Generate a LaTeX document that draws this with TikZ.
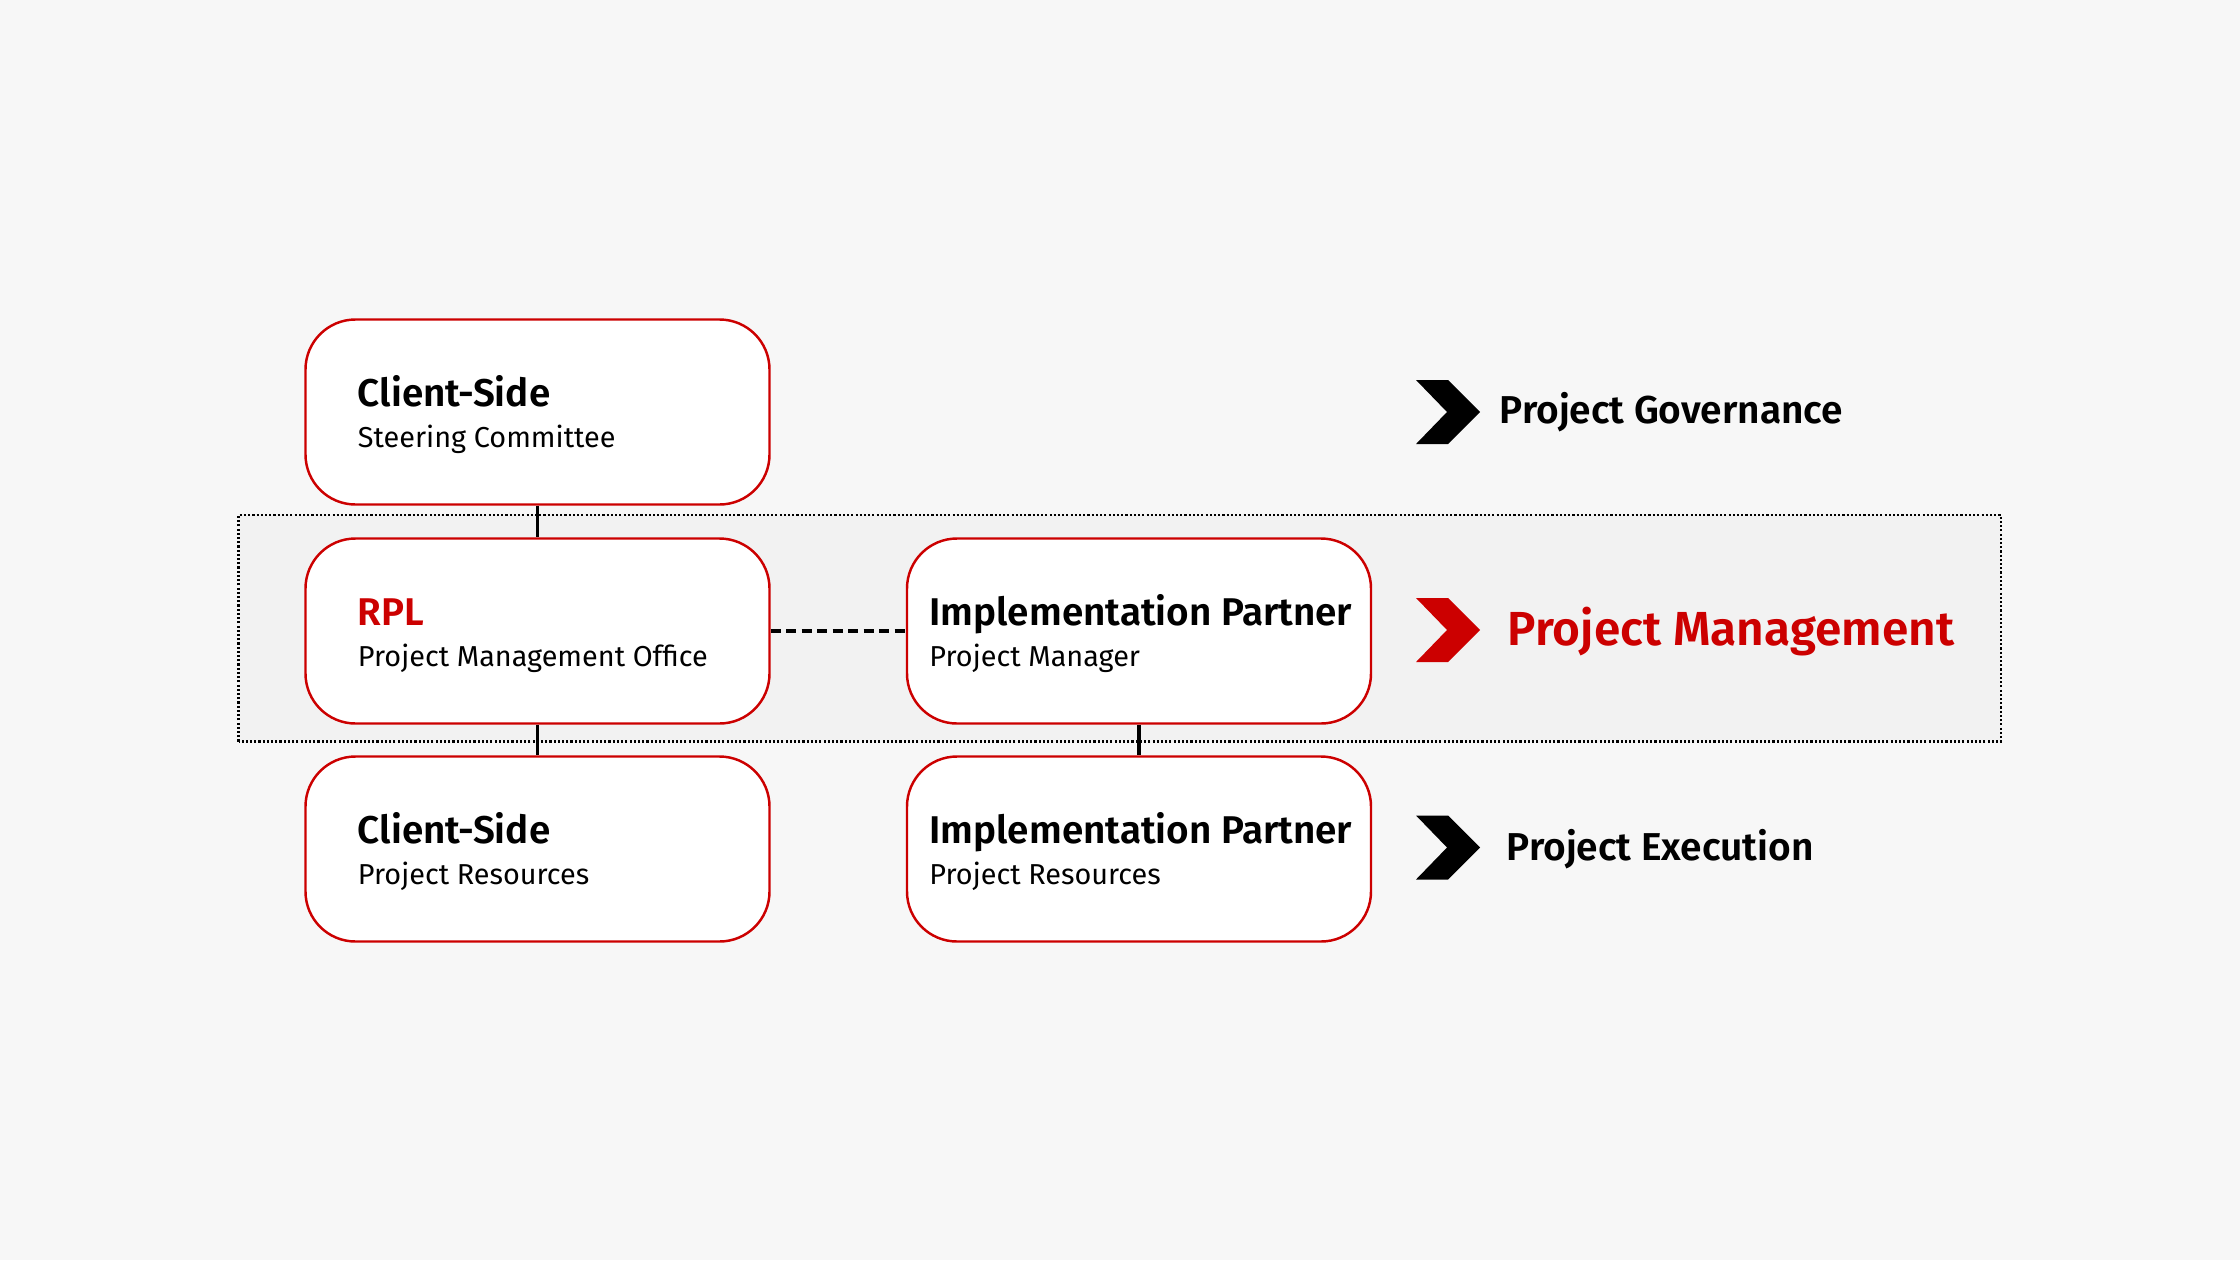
\documentclass[tikz,border=0pt]{standalone}
\usepackage{fontspec}
\setmainfont{Fira Sans}[BoldFont={Fira Sans SemiBold}]
\usepackage{tikz}
\usetikzlibrary{positioning}

\definecolor{rplred}{HTML}{CC0000}
\definecolor{pagebg}{HTML}{F7F7F7}
\definecolor{bandbg}{HTML}{F2F2F2}

\tikzset{
  box/.style={draw=rplred, line width=0.7pt, fill=white, rounded corners=5mm,
    minimum width=4.64cm, minimum height=1.85cm, inner sep=0pt},
  ttl/.style={anchor=base west, inner sep=0pt, font=\fontsize{11}{13}\selectfont\bfseries},
  sub/.style={anchor=base west, inner sep=0pt, font=\fontsize{8.2}{10}\selectfont},
  link/.style={line width=1.1pt},
  phase/.style={anchor=base west, inner sep=0pt, font=\fontsize{11.05}{13}\selectfont\bfseries},
}

\begin{document}
\begin{tikzpicture}
            \useasboundingbox (0,0) rectangle (22.4,12.6);
            \fill[pagebg] (0,0) rectangle (22.4,12.6);

            % management band
            \draw[fill=bandbg, line width=0.6pt, dash pattern=on 0.6pt off 0.6pt] (2.385,5.185) rectangle (20.01,7.45);

            \foreach \n/\x/\y/\dx/\c/\t/\s in {
                gov/5.375/8.48/5.3/black/Client-Side/Steering Committee,
                pmo/5.375/6.29/5.3/rplred/RPL/Project Management Office,
                cres/5.375/4.11/5.3/black/Client-Side/Project Resources,
                ipm/11.39/6.29/2.3/black/Implementation Partner/Project Manager,
                ires/11.39/4.11/2.3/black/Implementation Partner/Project Resources}{
                \node[box] (\n) at (\x,\y) {};
                \node[ttl, text=\c] (\n-t) at ([xshift=\dx mm, yshift=0.6mm]\n.west) {\t};
                \node[sub] (\n-s) at ([yshift=-4.1mm]\n-t.base west) {\s};
            }

            \draw[link] (gov) -- (pmo);
            \draw[link] (pmo) -- (cres);
            \draw[link] (ipm) -- (ires);
            \draw[link, dash pattern=on 1mm off 0.55mm] (pmo) -- (ipm);

            % chevrons
            \foreach \y/\c in {8.48/black, 6.30/rplred, 4.125/black}
                \fill[\c] (14.16,\y) ++(0,0.32) -- ++(0.32,0) -- ++(0.32,-0.32)
                    -- ++(-0.32,-0.32) -- ++(-0.32,0) -- ++(0.31,0.32) -- cycle;

            \node[phase] (gvn) at (14.99,8.367) {Project Governance};
            \node[phase, text=rplred, font=\fontsize{13.6}{15}\selectfont\bfseries] (mgt) at (15.07,6.143) {Project Management};
            \node[phase] (exe) at (15.06,4.0) {Project Execution};
        \end{tikzpicture}
\end{document}
